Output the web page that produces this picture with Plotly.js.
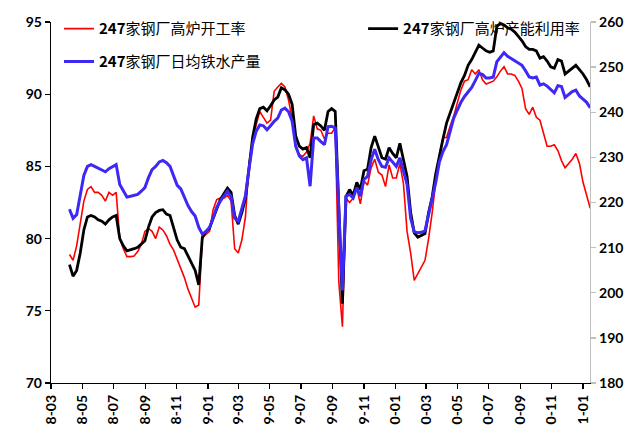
<!DOCTYPE html>
<html>
<head>
<meta charset="utf-8">
<script src="https://cdn.plot.ly/plotly-3.0.1.min.js"></script>
<style>html,body{margin:0;padding:0;background:#fff;}#chart{width:641px;height:429px;}</style>
</head>
<body>
<div id="chart"></div>
<script>
// weekly dates (Fridays)
const dates = [
'2018-04-06','2018-04-13','2018-04-20','2018-04-27','2018-05-04','2018-05-11','2018-05-18','2018-05-25',
'2018-06-01','2018-06-08','2018-06-15','2018-06-22','2018-06-29','2018-07-06','2018-07-13','2018-07-20','2018-07-27',
'2018-08-03','2018-08-10','2018-08-17','2018-08-24','2018-08-31','2018-09-07','2018-09-14','2018-09-21','2018-09-28',
'2018-10-05','2018-10-12','2018-10-19','2018-10-26','2018-11-02','2018-11-09','2018-11-16','2018-11-23','2018-11-30',
'2018-12-07','2018-12-14','2018-12-21','2018-12-28',
'2019-01-04','2019-01-11','2019-01-18','2019-01-25','2019-02-01','2019-02-08','2019-02-15','2019-02-22',
'2019-03-01','2019-03-08','2019-03-15','2019-03-22','2019-03-29','2019-04-05','2019-04-12','2019-04-19','2019-04-26',
'2019-05-03','2019-05-10','2019-05-17','2019-05-24','2019-05-31','2019-06-07','2019-06-14','2019-06-21','2019-06-28',
'2019-07-05','2019-07-12','2019-07-19','2019-07-26','2019-08-02','2019-08-09','2019-08-16','2019-08-23','2019-08-30',
'2019-09-06','2019-09-13','2019-09-20','2019-09-27','2019-10-04','2019-10-11','2019-10-18','2019-10-25',
'2019-11-01','2019-11-08','2019-11-15','2019-11-22','2019-11-29','2019-12-06','2019-12-13','2019-12-20','2019-12-27',
'2020-01-03','2020-01-10','2020-01-17','2020-01-24','2020-01-31','2020-02-07','2020-02-14','2020-02-21','2020-02-28',
'2020-03-06','2020-03-13','2020-03-20','2020-03-27','2020-04-03','2020-04-10','2020-04-17','2020-04-24',
'2020-05-01','2020-05-08','2020-05-15','2020-05-22','2020-05-29','2020-06-05','2020-06-12','2020-06-19','2020-06-26',
'2020-07-03','2020-07-10','2020-07-17','2020-07-24','2020-07-31','2020-08-07','2020-08-14','2020-08-21','2020-08-28',
'2020-09-04','2020-09-11','2020-09-18','2020-09-25','2020-10-02','2020-10-09','2020-10-16','2020-10-23','2020-10-30',
'2020-11-06','2020-11-13','2020-11-20','2020-11-27','2020-12-04','2020-12-11','2020-12-18','2020-12-25',
'2021-01-01','2021-01-08','2021-01-15'
];

// 247家钢厂高炉开工率 (%), left axis
const kaigonglv = [
78.9,78.5,79.5,81.0,82.6,83.4,83.6,83.2,83.2,83.0,82.6,83.2,83.0,83.2,80.0,79.3,78.75,78.75,78.8,79.1,
79.6,80.5,80.7,80.5,80.0,80.8,80.6,80.2,79.6,79.2,78.6,78.0,77.3,76.5,75.8,75.25,75.4,80.0,80.3,80.5,
82.0,82.7,82.8,82.8,83.0,82.6,79.3,79.0,79.9,81.5,85.2,86.8,87.9,88.8,88.4,88.0,88.2,90.2,90.5,90.75,
90.5,89.6,88.3,86.3,85.8,85.7,86.0,86.6,88.5,87.6,87.5,86.9,87.3,87.3,87.7,77.0,73.9,82.8,82.5,82.8,
83.5,82.4,84.0,83.7,84.9,85.5,84.6,84.4,83.6,85.1,84.2,84.2,85.2,83.8,80.5,79.0,77.1,77.6,78.1,78.5,
80.0,81.8,84.0,85.8,87.0,87.0,87.8,88.5,89.4,90.3,90.9,91.0,91.7,91.4,91.7,91.0,90.7,90.8,90.9,91.2,
91.6,91.9,91.4,91.4,91.3,90.9,90.4,89.0,88.6,89.1,88.4,88.2,87.2,86.4,86.4,86.5,86.1,85.4,84.9,85.2,
85.5,85.9,85.2,83.9,83.0,82.1
];

// 247家钢厂高炉产能利用率 (%), left axis
const channeng = [
78.2,77.4,77.8,79.0,80.6,81.5,81.6,81.5,81.3,81.2,81.0,81.3,81.5,81.6,80.0,79.5,79.15,79.2,79.3,79.4,
79.6,79.85,80.8,81.5,81.8,81.95,82.0,81.7,81.6,80.8,79.9,79.4,79.3,78.8,78.3,77.8,76.8,80.1,80.5,80.7,
81.4,82.1,82.7,83.1,83.5,83.2,81.6,81.0,81.8,82.8,85.0,87.0,88.3,89.0,89.1,88.85,89.2,89.6,89.8,90.45,
90.3,90.0,89.3,87.1,86.4,86.2,86.3,85.6,87.9,88.0,87.8,87.5,88.8,89.0,88.8,81.8,75.5,82.9,83.4,83.0,
83.9,83.4,84.7,84.8,86.3,87.1,86.3,85.6,85.5,86.3,85.9,85.6,86.6,85.4,84.3,81.8,80.4,80.1,80.2,80.35,
81.8,82.9,84.5,85.8,86.9,88.0,88.7,89.5,90.1,90.8,91.3,92.0,92.4,92.9,93.4,93.2,93.0,92.9,93.0,94.7,
94.9,94.8,94.6,94.5,94.3,94.0,93.7,93.3,93.1,93.1,93.0,92.5,92.6,92.3,91.9,91.8,92.4,92.3,91.4,91.6,
91.8,92.0,91.7,91.4,91.0,90.5
];

// 247家钢厂日均铁水产量 (万吨), right axis
const tieshui = [
218.5,216.5,217.3,221.5,226.0,228.0,228.4,228.0,227.6,227.3,226.8,227.5,228.0,228.4,224.0,222.5,221.2,221.4,221.6,221.8,
222.5,223.3,225.5,227.3,228.0,229.0,229.3,228.8,228.0,225.8,223.8,223.0,221.2,219.3,218.0,217.0,214.5,213.0,213.6,214.5,
216.5,218.9,220.3,221.5,222.5,221.3,216.5,215.8,218.5,221.5,227.5,233.0,235.8,237.2,237.0,236.1,237.0,238.0,238.7,240.5,
240.9,240.1,238.0,232.5,230.3,229.5,229.9,223.6,234.3,234.3,233.5,232.8,236.8,236.9,236.5,218.5,200.5,221.4,221.8,221.0,
223.3,221.4,225.1,225.8,229.5,231.8,229.5,228.0,227.8,229.9,229.0,228.0,229.9,227.0,224.0,216.5,213.5,213.3,213.4,213.7,
217.5,220.5,224.5,229.0,231.3,232.8,236.0,238.7,240.5,242.2,243.5,244.6,245.5,247.0,248.6,248.4,247.6,247.6,247.8,251.2,
252.3,253.2,252.4,251.9,251.4,250.9,250.4,249.2,247.8,247.6,247.8,246.0,246.3,245.8,245.0,244.3,245.9,245.7,243.3,244.0,
244.6,244.9,243.6,242.9,242.2,241.0
];

const tickVals = ['2018-03-01','2018-05-01','2018-07-01','2018-09-01','2018-11-01','2019-01-01','2019-03-01','2019-05-01','2019-07-01',
  '2019-09-01','2019-11-01','2020-01-01','2020-03-01','2020-05-01','2020-07-01','2020-09-01','2020-11-01','2021-01-01'];
const tickText = ['8-03','8-05','8-07','8-09','8-11','9-01','9-03','9-05','9-07','9-09','9-11','0-01','0-03','0-05','0-07','0-09','0-11','1-01'];

const nameRed = '<b>247</b>家钢厂高炉开工率';
const nameBlack = '<b>247</b>家钢厂高炉产能利用率';
const nameBlue = '<b>247</b>家钢厂日均铁水产量';

const tickFont = {family: 'Lato, "Liberation Sans", sans-serif', size: 14, color: '#000', weight: 'bold'};
const legFont = {family: '"Noto Sans CJK SC", Lato, sans-serif', size: 15, color: '#000'};

const traces = [
  {x: dates, y: kaigonglv, name: nameRed, type: 'scatter', mode: 'lines', line: {color: '#ff0000', width: 1.6}, yaxis: 'y', legend: 'legend'},
  {x: dates, y: channeng, name: nameBlack, type: 'scatter', mode: 'lines', line: {color: '#000000', width: 2.8}, yaxis: 'y', legend: 'legend3'},
  {x: dates, y: tieshui, name: nameBlue, type: 'scatter', mode: 'lines', line: {color: '#3d28f5', width: 3}, yaxis: 'y2', legend: 'legend2'}
];

const layout = {
  width: 641, height: 429,
  margin: {l: 51, r: 51, t: 20, b: 46},
  paper_bgcolor: '#fff', plot_bgcolor: '#fff',
  showlegend: true,
  xaxis: {
    type: 'date', range: ['2018-03-01', '2021-01-14 14:00'],
    tickmode: 'array', tickvals: tickVals, ticktext: tickText, tickangle: -90,
    ticks: 'outside', ticklen: 5, tickcolor: '#000', tickwidth: 1.3,
    showline: true, linecolor: '#000', linewidth: 1.3,
    showgrid: false, zeroline: false, automargin: false, tickfont: tickFont
  },
  yaxis: {
    range: [70, 95], dtick: 5, tick0: 70,
    ticks: 'outside', ticklen: 5, tickcolor: '#000', tickwidth: 1.3,
    showline: true, linecolor: '#000', linewidth: 1.3,
    showgrid: false, zeroline: false, automargin: false, tickfont: tickFont
  },
  yaxis2: {
    overlaying: 'y', side: 'right', range: [180, 260], dtick: 10, tick0: 180,
    ticks: 'outside', ticklen: 5, tickcolor: '#bfbfbf', tickwidth: 1.3,
    showline: true, linecolor: '#bfbfbf', linewidth: 1.3,
    showgrid: false, zeroline: false, automargin: false, tickfont: tickFont
  },
  legend: {x: 0.0148, xanchor: 'left', y: 0.981, yanchor: 'middle', bgcolor: 'rgba(0,0,0,0)', borderwidth: 0, font: legFont},
  legend2: {x: 0.0148, xanchor: 'left', y: 0.890, yanchor: 'middle', bgcolor: 'rgba(0,0,0,0)', borderwidth: 0, font: legFont},
  legend3: {x: 0.579, xanchor: 'left', y: 0.981, yanchor: 'middle', bgcolor: 'rgba(0,0,0,0)', borderwidth: 0, font: legFont}
};

Plotly.newPlot('chart', traces, layout, {displayModeBar: false, staticPlot: true});
</script>
</body>
</html>
